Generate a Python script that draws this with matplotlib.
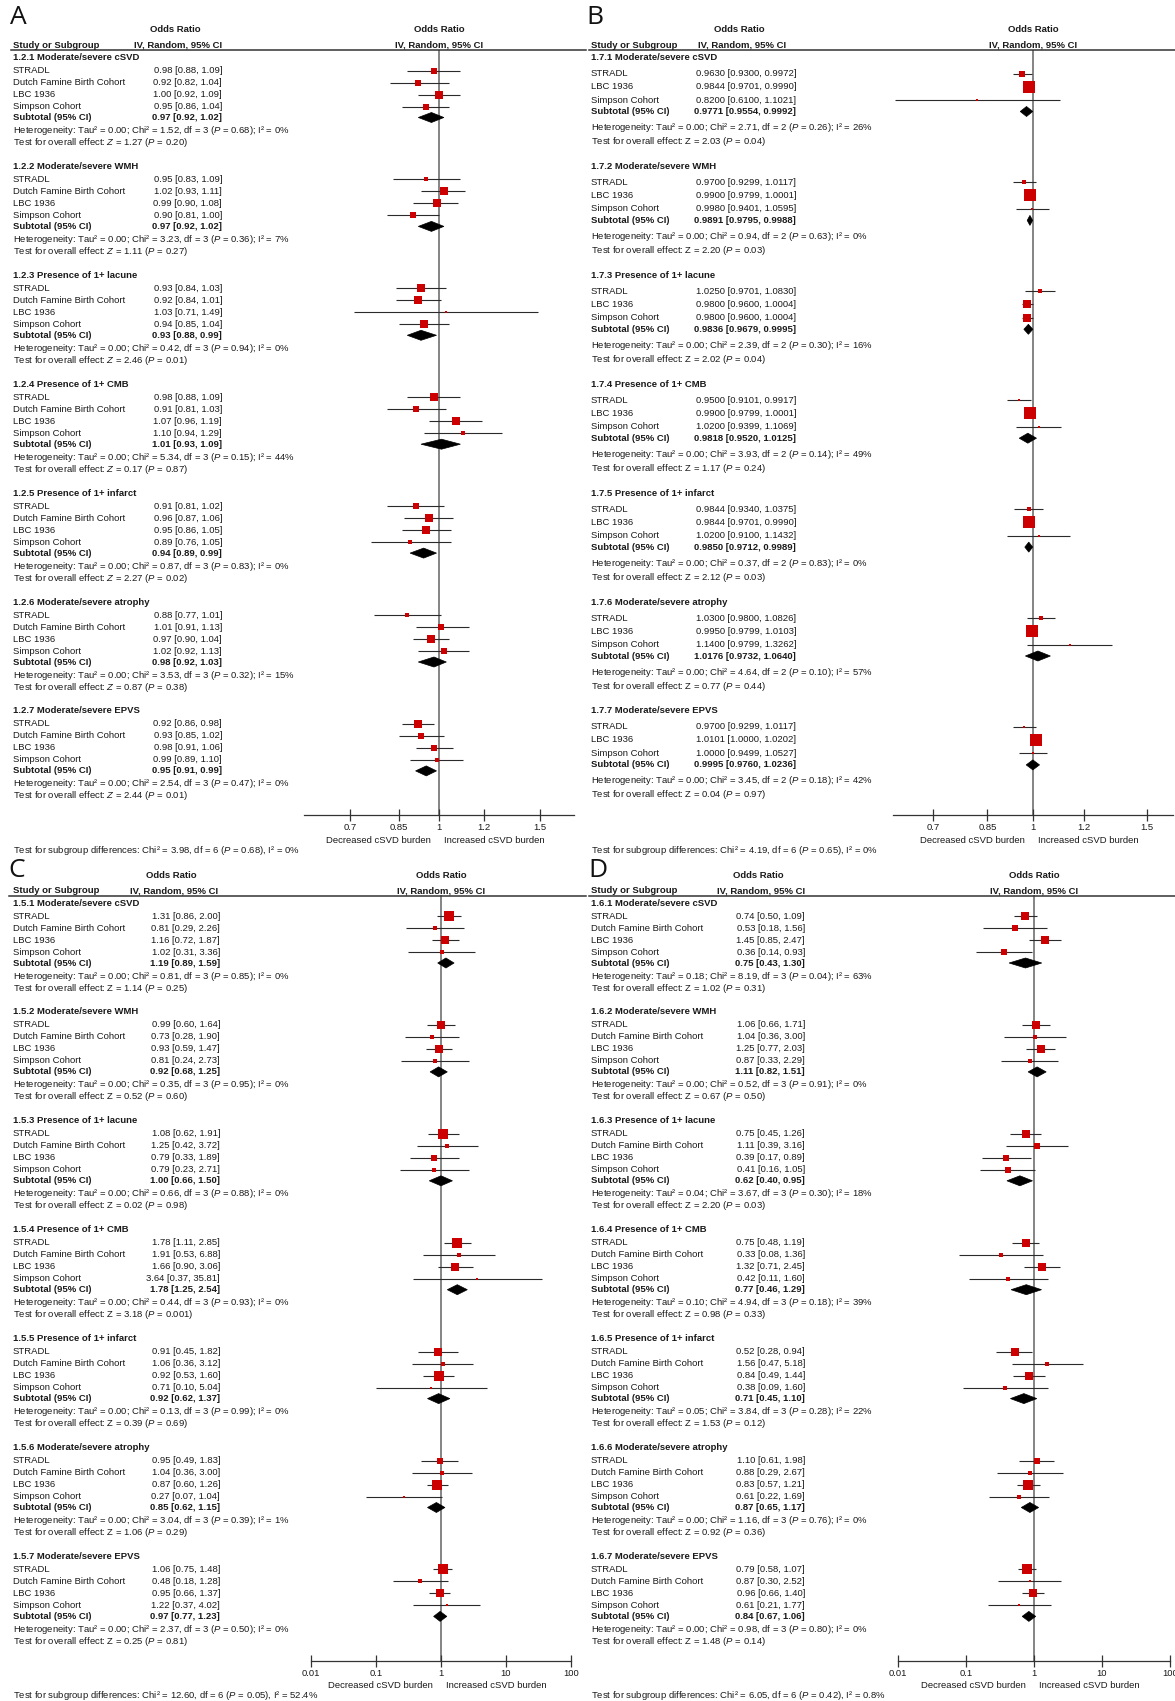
import numpy as np
import matplotlib
matplotlib.use("Agg")
import matplotlib.pyplot as plt
from matplotlib import transforms
from matplotlib.lines import Line2D
from matplotlib.patches import Polygon
from matplotlib.ticker import FixedLocator, FixedFormatter, NullLocator

plt.rcParams["font.family"] = ["Liberation Sans", "DejaVu Sans"]
plt.rcParams["mathtext.fontset"] = "custom"
plt.rcParams["mathtext.rm"] = "Liberation Sans"
plt.rcParams["mathtext.it"] = "Liberation Sans:italic"
plt.rcParams["mathtext.bf"] = "Liberation Sans:bold"

# ---------------------------------------------------------------- data
outcomes = ["Moderate/severe cSVD", "Moderate/severe WMH", "Presence of 1+ lacune",
            "Presence of 1+ CMB", "Presence of 1+ infarct", "Moderate/severe atrophy",
            "Moderate/severe EPVS"]
studies_4 = ["STRADL", "Dutch Famine Birth Cohort", "LBC 1936", "Simpson Cohort"]
studies_3 = ["STRADL", "LBC 1936", "Simpson Cohort"]

ticks_narrow = [0.7, 0.85, 1, 1.2, 1.5]
ticks_wide = [0.01, 0.1, 1, 10, 100]

# Analysis 1.2
a_or = [[0.98, 0.92, 1.00, 0.95], [0.95, 1.02, 0.99, 0.90], [0.93, 0.92, 1.03, 0.94],
        [0.98, 0.91, 1.07, 1.10], [0.91, 0.96, 0.95, 0.89], [0.88, 1.01, 0.97, 1.02],
        [0.92, 0.93, 0.98, 0.99]]
a_lo = [[0.88, 0.82, 0.92, 0.86], [0.83, 0.93, 0.90, 0.81], [0.84, 0.84, 0.71, 0.85],
        [0.88, 0.81, 0.96, 0.94], [0.81, 0.87, 0.86, 0.76], [0.77, 0.91, 0.90, 0.92],
        [0.86, 0.85, 0.91, 0.89]]
a_hi = [[1.09, 1.04, 1.09, 1.04], [1.09, 1.11, 1.08, 1.00], [1.03, 1.01, 1.49, 1.04],
        [1.09, 1.03, 1.19, 1.29], [1.02, 1.06, 1.05, 1.05], [1.01, 1.13, 1.04, 1.13],
        [0.98, 1.02, 1.06, 1.10]]
a_sub = [0.97, 0.97, 0.93, 1.01, 0.94, 0.98, 0.95]
a_sub_lo = [0.92, 0.92, 0.88, 0.93, 0.89, 0.92, 0.91]
a_sub_hi = [1.02, 1.02, 0.99, 1.09, 0.99, 1.03, 0.99]
a_tau2 = [0.00, 0.00, 0.00, 0.00, 0.00, 0.00, 0.00]
a_chi2 = [1.52, 3.23, 0.42, 5.34, 0.87, 3.53, 2.54]
a_df = [3, 3, 3, 3, 3, 3, 3]
a_p_het = [0.68, 0.36, 0.94, 0.15, 0.83, 0.32, 0.47]
a_i2 = [0, 7, 0, 44, 0, 15, 0]
a_z = [1.27, 1.11, 2.46, 0.17, 2.27, 0.87, 2.44]
a_p_z = [0.20, 0.27, 0.01, 0.87, 0.02, 0.38, 0.01]
a_diff = [3.98, 6, 0.68, 0]

# Analysis 1.7
b_or = [[0.9630, 0.9844, 0.8200], [0.9700, 0.9900, 0.9980], [1.0250, 0.9800, 0.9800],
        [0.9500, 0.9900, 1.0200], [0.9844, 0.9844, 1.0200], [1.0300, 0.9950, 1.1400],
        [0.9700, 1.0101, 1.0000]]
b_lo = [[0.9300, 0.9701, 0.6100], [0.9299, 0.9799, 0.9401], [0.9701, 0.9600, 0.9600],
        [0.9101, 0.9799, 0.9399], [0.9340, 0.9701, 0.9100], [0.9800, 0.9799, 0.9799],
        [0.9299, 1.0000, 0.9499]]
b_hi = [[0.9972, 0.9990, 1.1021], [1.0117, 1.0001, 1.0595], [1.0830, 1.0004, 1.0004],
        [0.9917, 1.0001, 1.1069], [1.0375, 0.9990, 1.1432], [1.0826, 1.0103, 1.3262],
        [1.0117, 1.0202, 1.0527]]
b_sub = [0.9771, 0.9891, 0.9836, 0.9818, 0.9850, 1.0176, 0.9995]
b_sub_lo = [0.9554, 0.9795, 0.9679, 0.9520, 0.9712, 0.9732, 0.9760]
b_sub_hi = [0.9992, 0.9988, 0.9995, 1.0125, 0.9989, 1.0640, 1.0236]
b_tau2 = [0.00, 0.00, 0.00, 0.00, 0.00, 0.00, 0.00]
b_chi2 = [2.71, 0.94, 2.39, 3.93, 0.37, 4.64, 3.45]
b_df = [2, 2, 2, 2, 2, 2, 2]
b_p_het = [0.26, 0.63, 0.30, 0.14, 0.83, 0.10, 0.18]
b_i2 = [26, 0, 16, 49, 0, 57, 42]
b_z = [2.03, 2.20, 2.02, 1.17, 2.12, 0.77, 0.04]
b_p_z = [0.04, 0.03, 0.04, 0.24, 0.03, 0.44, 0.97]
b_diff = [4.19, 6, 0.65, 0]

# Analysis 1.5
c_or = [[1.31, 0.81, 1.16, 1.02], [0.99, 0.73, 0.93, 0.81], [1.08, 1.25, 0.79, 0.79],
        [1.78, 1.91, 1.66, 3.64], [0.91, 1.06, 0.92, 0.71], [0.95, 1.04, 0.87, 0.27],
        [1.06, 0.48, 0.95, 1.22]]
c_lo = [[0.86, 0.29, 0.72, 0.31], [0.60, 0.28, 0.59, 0.24], [0.62, 0.42, 0.33, 0.23],
        [1.11, 0.53, 0.90, 0.37], [0.45, 0.36, 0.53, 0.10], [0.49, 0.36, 0.60, 0.07],
        [0.75, 0.18, 0.66, 0.37]]
c_hi = [[2.00, 2.26, 1.87, 3.36], [1.64, 1.90, 1.47, 2.73], [1.91, 3.72, 1.89, 2.71],
        [2.85, 6.88, 3.06, 35.81], [1.82, 3.12, 1.60, 5.04], [1.83, 3.00, 1.26, 1.04],
        [1.48, 1.28, 1.37, 4.02]]
c_sub = [1.19, 0.92, 1.00, 1.78, 0.92, 0.85, 0.97]
c_sub_lo = [0.89, 0.68, 0.66, 1.25, 0.62, 0.62, 0.77]
c_sub_hi = [1.59, 1.25, 1.50, 2.54, 1.37, 1.15, 1.23]
c_tau2 = [0.00, 0.00, 0.00, 0.00, 0.00, 0.00, 0.00]
c_chi2 = [0.81, 0.35, 0.66, 0.44, 0.13, 3.04, 2.37]
c_df = [3, 3, 3, 3, 3, 3, 3]
c_p_het = [0.85, 0.95, 0.88, 0.93, 0.99, 0.39, 0.50]
c_i2 = [0, 0, 0, 0, 0, 1, 0]
c_z = [1.14, 0.52, 0.02, 3.18, 0.39, 1.06, 0.25]
c_p_z = [0.25, 0.60, 0.98, 0.001, 0.69, 0.29, 0.81]
c_diff = [12.60, 6, 0.05, 52.4]

# Analysis 1.6
d_or = [[0.74, 0.53, 1.45, 0.36], [1.06, 1.04, 1.25, 0.87], [0.75, 1.11, 0.39, 0.41],
        [0.75, 0.33, 1.32, 0.42], [0.52, 1.56, 0.84, 0.38], [1.10, 0.88, 0.83, 0.61],
        [0.79, 0.87, 0.96, 0.61]]
d_lo = [[0.50, 0.18, 0.85, 0.14], [0.66, 0.36, 0.77, 0.33], [0.45, 0.39, 0.17, 0.16],
        [0.48, 0.08, 0.71, 0.11], [0.28, 0.47, 0.49, 0.09], [0.61, 0.29, 0.57, 0.22],
        [0.58, 0.30, 0.66, 0.21]]
d_hi = [[1.09, 1.56, 2.47, 0.93], [1.71, 3.00, 2.03, 2.29], [1.26, 3.16, 0.89, 1.05],
        [1.19, 1.36, 2.45, 1.60], [0.94, 5.18, 1.44, 1.60], [1.98, 2.67, 1.21, 1.69],
        [1.07, 2.52, 1.40, 1.77]]
d_sub = [0.75, 1.11, 0.62, 0.77, 0.71, 0.87, 0.84]
d_sub_lo = [0.43, 0.82, 0.40, 0.46, 0.45, 0.65, 0.67]
d_sub_hi = [1.30, 1.51, 0.95, 1.29, 1.10, 1.17, 1.06]
d_tau2 = [0.18, 0.00, 0.04, 0.10, 0.05, 0.00, 0.00]
d_chi2 = [8.19, 0.52, 3.67, 4.94, 3.84, 1.16, 0.98]
d_df = [3, 3, 3, 3, 3, 3, 3]
d_p_het = [0.04, 0.91, 0.30, 0.18, 0.28, 0.76, 0.80]
d_i2 = [63, 0, 18, 39, 22, 0, 0]
d_z = [1.02, 0.67, 2.20, 0.98, 1.53, 0.92, 1.48]
d_p_z = [0.31, 0.50, 0.03, 0.33, 0.12, 0.36, 0.14]
d_diff = [6.05, 6, 0.42, 0.8]

# ---------------------------------------------------------------- layout
W, H = 1175, 1701
FS = 6.8
TXT = "#1a1a1a"
RED = "#cc0000"

fig = plt.figure(figsize=(W / 100, H / 100), dpi=100)


def fx(x):
    return x / W


def fy(y):
    return 1 - y / H


def fmt_p(p):
    return f"{p:.3f}" if p < 0.01 else f"{p:.2f}"


def box_sides(lo, hi, tau2):
    se = (np.log(hi) - np.log(lo)) / (2 * 1.959964)
    w = 1.0 / (se ** 2 + tau2)
    pct = 100 * w / w.sum()
    return np.maximum(2.0, 1.3 * np.sqrt(pct))


def draw_panel(p):
    top = p["top"]
    hline, axis_y = 50, 815
    # column headings
    fig.text(fx(p["names_x"]), fy(top + 45), "Study or Subgroup", fontsize=FS,
             fontweight="bold", color=TXT, ha="left", va="center")
    fig.text(fx(p["hdr_x"]), fy(top + 30), "Odds Ratio", fontsize=FS,
             fontweight="bold", color=TXT, ha="center", va="center")
    fig.text(fx(p["hdr_x"] + 3), fy(top + 45), "IV, Random, 95% CI", fontsize=FS,
             fontweight="bold", color=TXT, ha="center", va="center")
    fig.add_artist(Line2D([fx(p["line"][0]), fx(p["line"][1])],
                          [fy(top + hline), fy(top + hline)],
                          color="#333333", lw=1.1))
    fig.text(fx(p["letter_x"]), fy(p["letter_y"]), p["letter"], fontsize=19,
             family=["Open Sans", "DejaVu Sans"], color="#111111", ha="left",
             va="center")

    ax = fig.add_axes([fx(p["ax"][0]), fy(top + axis_y),
                       fx(p["ax"][1] - p["ax"][0]), (axis_y - hline) / H])
    ax.set_xscale("log")
    ax.set_xlim(*p["xlim"])
    ax.set_ylim(axis_y - hline, 0)
    ax.patch.set_alpha(0)
    for s in ["left", "right", "top"]:
        ax.spines[s].set_visible(False)
    ax.spines["bottom"].set_color("#333333")
    ax.spines["bottom"].set_linewidth(0.9)
    ax.set_yticks([])
    ax.xaxis.set_major_locator(FixedLocator(p["ticks"]))
    ax.xaxis.set_major_formatter(FixedFormatter([f"{t:g}" for t in p["ticks"]]))
    ax.xaxis.set_minor_locator(NullLocator())
    ax.tick_params(axis="x", direction="inout", length=8, width=0.9,
                   labelsize=FS, pad=2, colors="#333333", labelcolor=TXT)
    ax.axvline(1, color="#707070", lw=1.2, zorder=1)

    # second heading above the plot column
    null_px = p["ax"][0] + (p["ax"][1] - p["ax"][0]) * (
        -np.log(p["xlim"][0]) / (np.log(p["xlim"][1]) - np.log(p["xlim"][0])))
    fig.text(fx(null_px), fy(top + 30), "Odds Ratio", fontsize=FS,
             fontweight="bold", color=TXT, ha="center", va="center")
    fig.text(fx(null_px), fy(top + 45), "IV, Random, 95% CI", fontsize=FS,
             fontweight="bold", color=TXT, ha="center", va="center")
    fig.text(fx(null_px - 8), fy(top + 840), "Decreased cSVD burden", fontsize=FS,
             color=TXT, ha="right", va="center")
    fig.text(fx(null_px + 5), fy(top + 840), "Increased cSVD burden", fontsize=FS,
             color=TXT, ha="left", va="center")

    tr = transforms.blended_transform_factory(fig.transFigure, ax.transData)
    studies = p["studies"]
    offs = p["offsets"]
    dec = p["dec"]
    zlab = "$\\it{Z}$" if p["italic_z"] else "Z"
    for b, name in enumerate(outcomes):
        y0 = 7.5 + b * 108.9
        ax.text(fx(p["names_x"]), y0, f"{p['code']}.{b + 1} {name}", transform=tr,
                fontsize=FS, fontweight="bold", color=TXT, ha="left", va="center")
        ors = np.array(p["or"][b])
        los = np.array(p["lo"][b])
        his = np.array(p["hi"][b])
        sides = box_sides(los, his, p["tau2"][b])
        for i, st in enumerate(studies):
            y = y0 + offs[i]
            ax.text(fx(p["names_x"]), y, st, transform=tr, fontsize=FS, color=TXT,
                    ha="left", va="center")
            ax.text(fx(p["val_x"]), y,
                    f"{ors[i]:.{dec}f} [{los[i]:.{dec}f}, {his[i]:.{dec}f}]",
                    transform=tr, fontsize=FS, color=TXT, ha="right", va="center")
            ax.hlines(y, los[i], his[i], color="#2a2a2a", lw=0.8, zorder=2)
            ax.plot(ors[i], y, marker="s", ms=sides[i] * 0.72, color=RED,
                    mec=RED, mew=0, zorder=3)
        ys = y0 + offs[len(studies)]
        ax.text(fx(p["names_x"]), ys, "Subtotal (95% CI)", transform=tr, fontsize=FS,
                fontweight="bold", color=TXT, ha="left", va="center")
        ax.text(fx(p["val_x"]), ys,
                f"{p['sub'][b]:.{dec}f} [{p['sub_lo'][b]:.{dec}f}, {p['sub_hi'][b]:.{dec}f}]",
                transform=tr, fontsize=FS, fontweight="bold", color=TXT, ha="right",
                va="center")
        ax.add_patch(Polygon([(p["sub_lo"][b], ys), (p["sub"][b], ys - 5),
                              (p["sub_hi"][b], ys), (p["sub"][b], ys + 5)],
                             closed=True, facecolor="black", edgecolor="black",
                             lw=0.5, zorder=3))
        het = (f"Heterogeneity: Tau² = {p['tau2'][b]:.2f}; Chi² = {p['chi2'][b]:.2f}, "
               f"df = {p['df'][b]} ($\\it{{P}}$ = {fmt_p(p['p_het'][b])}); "
               f"I² = {p['i2'][b]:g}%")
        ax.text(fx(p["names_x"]), y0 + offs[len(studies) + 1], het, transform=tr,
                fontsize=FS, color=TXT, ha="left", va="center")
        test = (f"Test for overall effect: {zlab} = {p['z'][b]:.2f} "
                f"($\\it{{P}}$ = {fmt_p(p['p_z'][b])})")
        ax.text(fx(p["names_x"]), y0 + offs[len(studies) + 2], test, transform=tr,
                fontsize=FS, color=TXT, ha="left", va="center")

    chi, dfd, pd_, i2d = p["diff"]
    fig.text(fx(p["names_x"]), fy(top + 850),
             f"Test for subgroup differences: Chi² = {chi:.2f}, df = {dfd} "
             f"($\\it{{P}}$ = {fmt_p(pd_)}), I² = {i2d:g}%",
             fontsize=FS, color=TXT, ha="left", va="center")


off4 = [13, 25, 37, 49, 60, 73, 85]
off3 = [16, 29, 42.5, 54, 70, 84]
lim_a = (np.exp(-0.544), np.exp(0.544))
lim_b = (np.exp(-0.5), np.exp(0.5))

panels = [
    dict(letter="A", letter_x=10, letter_y=17, top=0, names_x=13, val_x=222, hdr_x=175,
         ax=(304, 574), xlim=lim_a, ticks=ticks_narrow, line=(11, 586), code="1.2",
         studies=studies_4, offsets=off4, dec=2, italic_z=True,
         **{"or": a_or, "lo": a_lo, "hi": a_hi, "sub": a_sub, "sub_lo": a_sub_lo,
            "sub_hi": a_sub_hi, "tau2": a_tau2, "chi2": a_chi2, "df": a_df,
            "p_het": a_p_het, "i2": a_i2, "z": a_z, "p_z": a_p_z, "diff": a_diff}),
    dict(letter="B", letter_x=586, letter_y=17, top=0, names_x=591, val_x=796,
         hdr_x=739, ax=(893, 1173), xlim=lim_b, ticks=ticks_narrow, line=(589, 1175),
         code="1.7", studies=studies_3, offsets=off3, dec=4, italic_z=False,
         **{"or": b_or, "lo": b_lo, "hi": b_hi, "sub": b_sub, "sub_lo": b_sub_lo,
            "sub_hi": b_sub_hi, "tau2": b_tau2, "chi2": b_chi2, "df": b_df,
            "p_het": b_p_het, "i2": b_i2, "z": b_z, "p_z": b_p_z, "diff": b_diff}),
    dict(letter="C", letter_x=8, letter_y=870, top=845.5, names_x=13, val_x=220,
         hdr_x=171, ax=(311, 571), xlim=(0.01, 100), ticks=ticks_wide, line=(9, 586),
         code="1.5", studies=studies_4, offsets=off4, dec=2, italic_z=False,
         **{"or": c_or, "lo": c_lo, "hi": c_hi, "sub": c_sub, "sub_lo": c_sub_lo,
            "sub_hi": c_sub_hi, "tau2": c_tau2, "chi2": c_chi2, "df": c_df,
            "p_het": c_p_het, "i2": c_i2, "z": c_z, "p_z": c_p_z, "diff": c_diff}),
    dict(letter="D", letter_x=588, letter_y=870, top=845.5, names_x=591, val_x=805,
         hdr_x=758, ax=(898, 1170), xlim=(0.01, 100), ticks=ticks_wide,
         line=(589, 1175), code="1.6", studies=studies_4, offsets=off4, dec=2,
         italic_z=False,
         **{"or": d_or, "lo": d_lo, "hi": d_hi, "sub": d_sub, "sub_lo": d_sub_lo,
            "sub_hi": d_sub_hi, "tau2": d_tau2, "chi2": d_chi2, "df": d_df,
            "p_het": d_p_het, "i2": d_i2, "z": d_z, "p_z": d_p_z, "diff": d_diff}),
]

for pnl in panels:
    draw_panel(pnl)

fig.savefig("out.png", dpi=100, facecolor="white")
